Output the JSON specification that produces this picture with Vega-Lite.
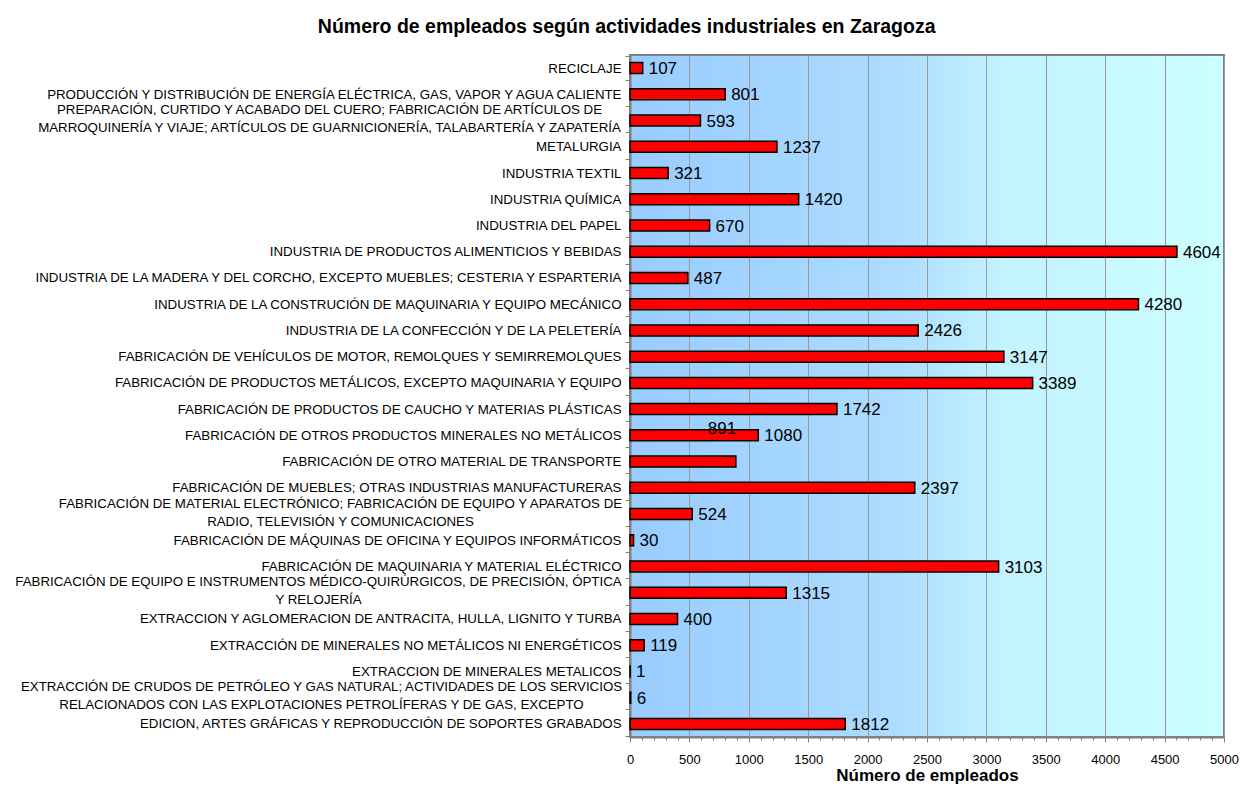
{
  "$schema": "https://vega.github.io/schema/vega-lite/v6.json",
  "width": 594,
  "height": 682,
  "autosize": "none",
  "padding": {"left": 630, "top": 55, "right": 23, "bottom": 53},
  "background": "white",
  "title": {
    "text": "Número de empleados según actividades industriales en Zaragoza",
    "font": "Liberation Sans",
    "fontSize": 19.5,
    "fontWeight": "bold",
    "color": "black",
    "anchor": "middle",
    "frame": "bounds",
    "offset": 11,
    "dx": 0
  },
  "config": {
    "font": "Liberation Sans",
    "view": {"stroke": "#808080", "strokeWidth": 2}
  },
  "view": {
    "stroke": "#808080",
    "strokeWidth": 2,
    "fill": {
      "gradient": "linear",
      "x1": 0, "y1": 0, "x2": 1, "y2": 0,
      "stops": [
        {"offset": 0, "color": "#99CCFF"},
        {"offset": 0.45, "color": "#ADDCFF"},
        {"offset": 0.62, "color": "#C2F2FF"},
        {"offset": 1, "color": "#CCFFFF"}
      ]
    }
  },
  "data": {
    "values": [
      {"cat": "RECICLAJE", "n": 107},
      {"cat": "PRODUCCIÓN Y DISTRIBUCIÓN DE ENERGÍA ELÉCTRICA, GAS, VAPOR Y AGUA CALIENTE", "n": 801},
      {"cat": "PREPARACIÓN, CURTIDO Y ACABADO DEL CUERO; FABRICACIÓN DE ARTÍCULOS DE|MARROQUINERÍA Y VIAJE; ARTÍCULOS DE GUARNICIONERÍA, TALABARTERÍA Y ZAPATERÍA", "n": 593},
      {"cat": "METALURGIA", "n": 1237},
      {"cat": "INDUSTRIA TEXTIL", "n": 321},
      {"cat": "INDUSTRIA QUÍMICA", "n": 1420},
      {"cat": "INDUSTRIA DEL PAPEL", "n": 670},
      {"cat": "INDUSTRIA DE PRODUCTOS ALIMENTICIOS Y BEBIDAS", "n": 4604},
      {"cat": "INDUSTRIA DE LA MADERA Y DEL CORCHO, EXCEPTO MUEBLES; CESTERIA Y ESPARTERIA", "n": 487},
      {"cat": "INDUSTRIA DE LA CONSTRUCIÓN DE MAQUINARIA Y EQUIPO MECÁNICO", "n": 4280},
      {"cat": "INDUSTRIA DE LA CONFECCIÓN Y DE LA PELETERÍA", "n": 2426},
      {"cat": "FABRICACIÓN DE VEHÍCULOS DE MOTOR, REMOLQUES Y SEMIRREMOLQUES", "n": 3147},
      {"cat": "FABRICACIÓN DE PRODUCTOS METÁLICOS, EXCEPTO MAQUINARIA Y EQUIPO", "n": 3389},
      {"cat": "FABRICACIÓN DE PRODUCTOS DE CAUCHO Y MATERIAS PLÁSTICAS", "n": 1742},
      {"cat": "FABRICACIÓN DE OTROS PRODUCTOS MINERALES NO METÁLICOS", "n": 1080},
      {"cat": "FABRICACIÓN DE OTRO MATERIAL DE TRANSPORTE", "n": 891},
      {"cat": "FABRICACIÓN DE MUEBLES; OTRAS INDUSTRIAS MANUFACTURERAS", "n": 2397},
      {"cat": "FABRICACIÓN DE MATERIAL ELECTRÓNICO; FABRICACIÓN DE EQUIPO Y APARATOS DE|RADIO, TELEVISIÓN Y COMUNICACIONES", "n": 524},
      {"cat": "FABRICACIÓN DE MÁQUINAS DE OFICINA Y EQUIPOS INFORMÁTICOS", "n": 30},
      {"cat": "FABRICACIÓN DE MAQUINARIA Y MATERIAL ELÉCTRICO", "n": 3103},
      {"cat": "FABRICACIÓN DE EQUIPO E INSTRUMENTOS MÉDICO-QUIRÚRGICOS, DE PRECISIÓN, ÓPTICA|Y RELOJERÍA", "n": 1315},
      {"cat": "EXTRACCION Y AGLOMERACION DE ANTRACITA, HULLA, LIGNITO Y TURBA", "n": 400},
      {"cat": "EXTRACCIÓN DE MINERALES NO METÁLICOS NI ENERGÉTICOS", "n": 119},
      {"cat": "EXTRACCION DE MINERALES METALICOS", "n": 1},
      {"cat": "EXTRACCIÓN DE CRUDOS DE PETRÓLEO Y GAS NATURAL; ACTIVIDADES DE LOS SERVICIOS|RELACIONADOS CON LAS EXPLOTACIONES PETROLÍFERAS Y DE GAS, EXCEPTO", "n": 6},
      {"cat": "EDICION, ARTES GRÁFICAS Y REPRODUCCIÓN DE SOPORTES GRABADOS", "n": 1812}
    ]
  },
  "resolve": {"axis": {"x": "independent"}},
  "layer": [
    {
      "mark": {"type": "bar", "fill": "#FF0000", "stroke": "#000000", "strokeWidth": 1.5, "size": 11},
      "encoding": {
        "y": {
          "field": "cat", "type": "nominal", "sort": null,
          "axis": {
            "title": null,
            "labelExpr": "datum.value ? split(datum.value, '|') : ''",
            "labelFont": "Liberation Sans",
            "labelFontSize": 13.3,
            "labelLineHeight": 18,
            "labelLimit": 1000,
            "labelColor": "#000000",
            "labelAlign": {"condition": {"test": "datum.value && indexof(datum.value, '|') >= 0", "value": "center"}, "value": "right"},
            "labelPadding": {
              "condition": [
                {"test": "datum.value && indexof(datum.value, 'MARROQUINER') >= 0", "value": 296},
                {"test": "datum.value && indexof(datum.value, 'ELECTRÓNICO') >= 0", "value": 285},
                {"test": "datum.value && indexof(datum.value, 'RELOJER') >= 0", "value": 307},
                {"test": "datum.value && indexof(datum.value, 'PETRÓLEO') >= 0", "value": 304}
              ],
              "value": 4
            },
            "labelOffset": {"condition": {"test": "datum.value && indexof(datum.value, '|') >= 0", "value": -11}, "value": 0},
            "tickBand": "extent",
            "tickColor": "#808080",
            "tickSize": 5,
            "domainColor": "#808080",
            "domainWidth": 2,
            "grid": false
          }
        },
        "x": {
          "field": "n", "type": "quantitative",
          "scale": {"domain": [0, 5000], "nice": false, "zero": true},
          "axis": {
            "title": "Número de empleados",
            "titleFont": "Liberation Sans",
            "titleFontSize": 17,
            "titleFontWeight": "bold",
            "titleColor": "#000000",
            "titlePadding": 1,
            "format": "d",
            "values": [0, 500, 1000, 1500, 2000, 2500, 3000, 3500, 4000, 4500, 5000],
            "labelFont": "Liberation Sans",
            "labelFontSize": 13,
            "labelColor": "#000000",
            "labelPadding": 11,
            "labelFlush": false,
            "labelOverlap": false,
            "tickColor": "#808080",
            "tickSize": 5,
            "domainColor": "#808080",
            "domainWidth": 2,
            "grid": true,
            "gridColor": "#999999",
            "gridWidth": 1
          }
        }
      }
    },
    {
      "mark": {"type": "point", "opacity": 0},
      "encoding": {
        "y": {"field": "cat", "type": "nominal", "sort": null},
        "x": {
          "field": "n", "type": "quantitative",
          "axis": {
            "orient": "bottom",
            "title": null,
            "labels": false,
            "grid": false,
            "domain": false,
            "tickColor": "#808080",
            "tickSize": 3,
            "values": [100, 200, 300, 400, 600, 700, 800, 900, 1100, 1200, 1300, 1400, 1600, 1700, 1800, 1900, 2100, 2200, 2300, 2400, 2600, 2700, 2800, 2900, 3100, 3200, 3300, 3400, 3600, 3700, 3800, 3900, 4100, 4200, 4300, 4400, 4600, 4700, 4800, 4900]
          }
        }
      }
    },
    {
      "transform": [{"filter": "datum.n != 891"}],
      "mark": {"type": "text", "align": "left", "baseline": "middle", "dx": 6, "dy": 1, "font": "Liberation Sans", "fontSize": 17, "color": "#000000"},
      "encoding": {
        "y": {"field": "cat", "type": "nominal", "sort": null},
        "x": {"field": "n", "type": "quantitative", "axis": null},
        "text": {"field": "n", "type": "quantitative"}
      }
    },
    {
      "transform": [{"filter": "datum.n == 891"}],
      "mark": {"type": "text", "align": "left", "baseline": "middle", "dx": -28, "dy": -33, "font": "Liberation Sans", "fontSize": 17, "color": "#000000"},
      "encoding": {
        "y": {"field": "cat", "type": "nominal", "sort": null},
        "x": {"field": "n", "type": "quantitative", "axis": null},
        "text": {"field": "n", "type": "quantitative"}
      }
    }
  ]
}
